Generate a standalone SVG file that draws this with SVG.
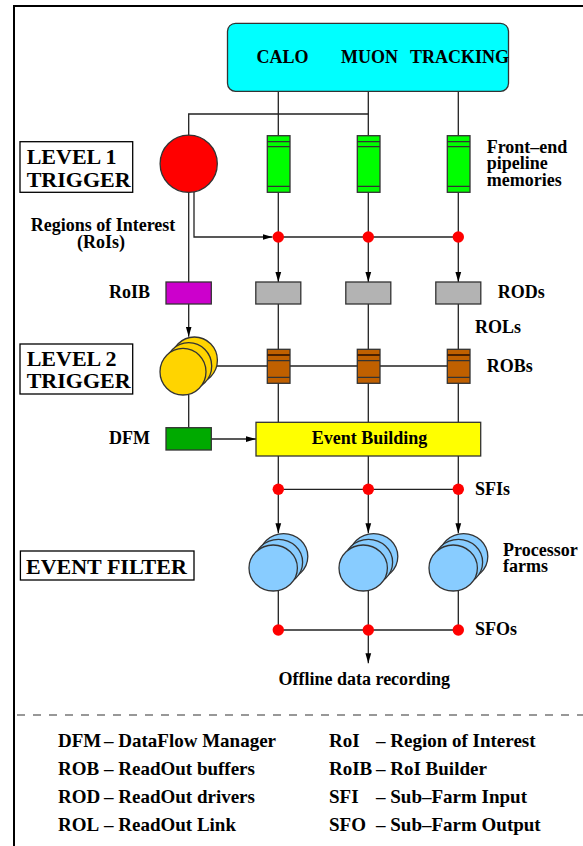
<svg xmlns="http://www.w3.org/2000/svg" width="583" height="846" viewBox="0 0 583 846">
<style>
text{font-family:"Liberation Serif","Times New Roman",serif;font-weight:bold;fill:#000}
.lbl{font-size:18px}
.ttl{font-size:22px}
.leg{font-size:19px}
.ln{stroke:#222;stroke-width:1.3;fill:none}
.bx{stroke:#333;stroke-width:1.3}
.dot{fill:#ff0000}
.st{stroke:#333;stroke-width:1.3}
</style>
<defs>
<marker id="ar" markerUnits="userSpaceOnUse" markerWidth="10" markerHeight="17" refX="16" refY="4.6" orient="auto" viewBox="0 0 16 9.2">
<path d="M0,0 L16,4.6 L0,9.2 z" fill="#000"/>
</marker>
</defs>
<rect width="583" height="846" fill="#fff"/>
<path d="M14,846 V6 H583" stroke="#000" stroke-width="2" fill="none"/>
<line x1="17" y1="715" x2="583" y2="715" stroke="#333" stroke-width="1.2" stroke-dasharray="8,8"/>

<g id="connectors">
<path class="ln" d="M278.3,91 V135.7 M368.3,91 V135.7 M458.3,91 V135.7"/>
<path class="ln" d="M188.7,135 V114 H368.3"/>
<path class="ln" d="M194,191.5 V237 H272.5" marker-end="url(#ar)"/>
<path class="ln" d="M278.3,237 H458.3"/>
<path class="ln" d="M278.3,192.3 V282" marker-end="url(#ar)"/>
<path class="ln" d="M368.3,192.3 V282" marker-end="url(#ar)"/>
<path class="ln" d="M458.3,192.3 V282" marker-end="url(#ar)"/>
<path class="ln" d="M188.7,192.4 V282"/>
<path class="ln" d="M188.7,304 V336.7" marker-end="url(#ar)"/>
<path class="ln" d="M278.3,304 V349.3 M368.3,304 V349.3 M458.3,304 V349.3"/>
<path class="ln" d="M217,366 H458.3"/>
<path class="ln" d="M278.3,383.3 V422.3 M368.3,383.3 V422.3 M458.3,383.3 V422.3"/>
<path class="ln" d="M188.7,395 V427.7"/>
<path class="ln" d="M211.3,439 H256" marker-end="url(#ar)"/>
<path class="ln" d="M278.3,456 V489.3 M368.3,456 V489.3 M458.3,456 V489.3"/>
<path class="ln" d="M278.3,489.3 H458.3"/>
<path class="ln" d="M278.3,489.3 V533.3" marker-end="url(#ar)"/>
<path class="ln" d="M368.3,489.3 V533.3" marker-end="url(#ar)"/>
<path class="ln" d="M458.3,489.3 V533.3" marker-end="url(#ar)"/>
<path class="ln" d="M278.3,590 V630 M368.3,590 V630 M458.3,590 V630"/>
<path class="ln" d="M278.3,630 H458.3"/>
<path class="ln" d="M368.3,630 V663.3" marker-end="url(#ar)"/>
</g>

<g id="detectors">
<rect class="bx" x="227.5" y="23.3" width="281" height="68" rx="8" fill="#00ffff"/>
<text class="lbl" x="256.5" y="63">CALO</text>
<text class="lbl" x="341" y="63">MUON</text>
<text class="lbl" x="410" y="63">TRACKING</text>
</g>

<g id="level1-title">
<rect x="20" y="141.7" width="112.7" height="50.6" fill="#fff" stroke="#000" stroke-width="1.3"/>
<text class="ttl" x="26.7" y="164">LEVEL 1</text>
<text class="ttl" x="26.7" y="186.7">TRIGGER</text>
</g>

<g id="level1-trigger">
<circle cx="188.7" cy="163.7" r="28.6" fill="#ff0000" class="bx"/>
</g>

<g id="pipelines">
<g id="pipe1">
<rect class="bx" x="267.3" y="135.7" width="22.7" height="56.6" fill="#00ff00"/>
<path class="st" d="M267.3,141.7 H290 M267.3,146.7 H290 M267.3,186.3 H290"/>
</g>
<g id="pipe2">
<rect class="bx" x="357.3" y="135.7" width="22.7" height="56.6" fill="#00ff00"/>
<path class="st" d="M357.3,141.7 H380 M357.3,146.7 H380 M357.3,186.3 H380"/>
</g>
<g id="pipe3">
<rect class="bx" x="447.3" y="135.7" width="22.7" height="56.6" fill="#00ff00"/>
<path class="st" d="M447.3,141.7 H470 M447.3,146.7 H470 M447.3,186.3 H470"/>
</g>
<text class="lbl" x="486.7" y="152.7">Front–end</text>
<text class="lbl" x="486.7" y="169.3">pipeline</text>
<text class="lbl" x="486.7" y="185.7">memories</text>
</g>

<g id="rois-label">
<text class="lbl" x="103" y="231" text-anchor="middle">Regions of Interest</text>
<text class="lbl" x="101" y="247.7" text-anchor="middle">(RoIs)</text>
</g>

<g id="roi-dots">
<circle class="dot" cx="278.3" cy="237" r="5.7"/>
<circle class="dot" cx="368.3" cy="237" r="5.7"/>
<circle class="dot" cx="458.3" cy="237" r="5.7"/>
</g>

<g id="roib">
<rect class="bx" x="166" y="282" width="45.3" height="22" fill="#cc00cc"/>
<text class="lbl" x="150" y="298.3" text-anchor="end">RoIB</text>
</g>

<g id="rods">
<rect class="bx" x="255.8" y="282" width="45" height="22" fill="#b3b3b3"/>
<rect class="bx" x="345.8" y="282" width="45" height="22" fill="#b3b3b3"/>
<rect class="bx" x="435.8" y="282" width="45" height="22" fill="#b3b3b3"/>
<text class="lbl" x="497.7" y="298.3">RODs</text>
<text class="lbl" x="475" y="332.7">ROLs</text>
</g>

<g id="level2-title">
<rect x="20" y="344" width="112.7" height="50" fill="#fff" stroke="#000" stroke-width="1.3"/>
<text class="ttl" x="26.7" y="365.7">LEVEL 2</text>
<text class="ttl" x="26.7" y="388.3">TRIGGER</text>
</g>

<g id="level2-trigger">
<ellipse class="bx" cx="194.4" cy="360.3" rx="23" ry="23.3" fill="#ffd400"/>
<ellipse class="bx" cx="188.7" cy="366" rx="23" ry="23.3" fill="#ffd400"/>
<ellipse class="bx" cx="183" cy="371.7" rx="23" ry="23.3" fill="#ffd400"/>
</g>

<g id="robs">
<g id="rob1">
<rect class="bx" x="267.3" y="349.3" width="22.7" height="34" fill="#c06000"/>
<path d="M267.3,355 H290" stroke="#4a2000" stroke-width="2"/>
<path class="st" d="M267.3,360.7 H290 M267.3,377.3 H290"/>
</g>
<g id="rob2">
<rect class="bx" x="357.3" y="349.3" width="22.7" height="34" fill="#c06000"/>
<path d="M357.3,355 H380" stroke="#4a2000" stroke-width="2"/>
<path class="st" d="M357.3,360.7 H380 M357.3,377.3 H380"/>
</g>
<g id="rob3">
<rect class="bx" x="447.3" y="349.3" width="22.7" height="34" fill="#c06000"/>
<path d="M447.3,355 H470" stroke="#4a2000" stroke-width="2"/>
<path class="st" d="M447.3,360.7 H470 M447.3,377.3 H470"/>
</g>
<text class="lbl" x="486.7" y="371.7">ROBs</text>
</g>

<g id="dfm">
<rect class="bx" x="166" y="427.7" width="45.3" height="22.3" fill="#00aa00"/>
<text class="lbl" x="150" y="444.3" text-anchor="end">DFM</text>
</g>

<g id="event-building">
<rect class="bx" x="256" y="422.3" width="224.7" height="33.7" fill="#ffff00"/>
<text class="lbl" x="369.5" y="444" text-anchor="middle">Event Building</text>
</g>

<g id="sfis">
<circle class="dot" cx="278.3" cy="489.3" r="5.7"/>
<circle class="dot" cx="368.3" cy="489.3" r="5.7"/>
<circle class="dot" cx="458.3" cy="489.3" r="5.7"/>
<text class="lbl" x="475" y="495">SFIs</text>
</g>

<g id="ef-title">
<rect x="20.4" y="551" width="173.6" height="29" fill="#fff" stroke="#000" stroke-width="1.3"/>
<text class="ttl" x="26" y="574">EVENT FILTER</text>
</g>

<g id="farms">
<g id="farm1">
<ellipse class="bx" cx="283.6" cy="556.6" rx="24.2" ry="23" fill="#88ccff"/>
<ellipse class="bx" cx="278.4" cy="562.3" rx="24.2" ry="23" fill="#88ccff"/>
<ellipse class="bx" cx="273.2" cy="568" rx="24.2" ry="23" fill="#88ccff"/>
</g>
<g id="farm2">
<ellipse class="bx" cx="373.6" cy="556.6" rx="24.2" ry="23" fill="#88ccff"/>
<ellipse class="bx" cx="368.4" cy="562.3" rx="24.2" ry="23" fill="#88ccff"/>
<ellipse class="bx" cx="363.2" cy="568" rx="24.2" ry="23" fill="#88ccff"/>
</g>
<g id="farm3">
<ellipse class="bx" cx="463.6" cy="556.6" rx="24.2" ry="23" fill="#88ccff"/>
<ellipse class="bx" cx="458.4" cy="562.3" rx="24.2" ry="23" fill="#88ccff"/>
<ellipse class="bx" cx="453.2" cy="568" rx="24.2" ry="23" fill="#88ccff"/>
</g>
<text class="lbl" x="503" y="556">Processor</text>
<text class="lbl" x="503" y="572">farms</text>
</g>

<g id="sfos">
<circle class="dot" cx="278.3" cy="630" r="5.7"/>
<circle class="dot" cx="368.3" cy="630" r="5.7"/>
<circle class="dot" cx="458.3" cy="630" r="5.7"/>
<text class="lbl" x="475" y="635">SFOs</text>
</g>

<g id="offline">
<text class="lbl" x="364.3" y="685" text-anchor="middle">Offline data recording</text>
</g>

<g id="legend">
<text class="leg" x="58" y="747">DFM</text>
<text class="leg" x="104" y="747">– DataFlow Manager</text>
<text class="leg" x="58" y="775">ROB</text>
<text class="leg" x="104" y="775">– ReadOut buffers</text>
<text class="leg" x="58" y="803">ROD</text>
<text class="leg" x="104" y="803">– ReadOut drivers</text>
<text class="leg" x="58" y="831">ROL</text>
<text class="leg" x="104" y="831">– ReadOut Link</text>
<text class="leg" x="329" y="747">RoI</text>
<text class="leg" x="376" y="747">– Region of Interest</text>
<text class="leg" x="329" y="775">RoIB</text>
<text class="leg" x="376" y="775">– RoI Builder</text>
<text class="leg" x="329" y="803">SFI</text>
<text class="leg" x="376" y="803">– Sub–Farm Input</text>
<text class="leg" x="329" y="831">SFO</text>
<text class="leg" x="376" y="831">– Sub–Farm Output</text>
</g>
</svg>
